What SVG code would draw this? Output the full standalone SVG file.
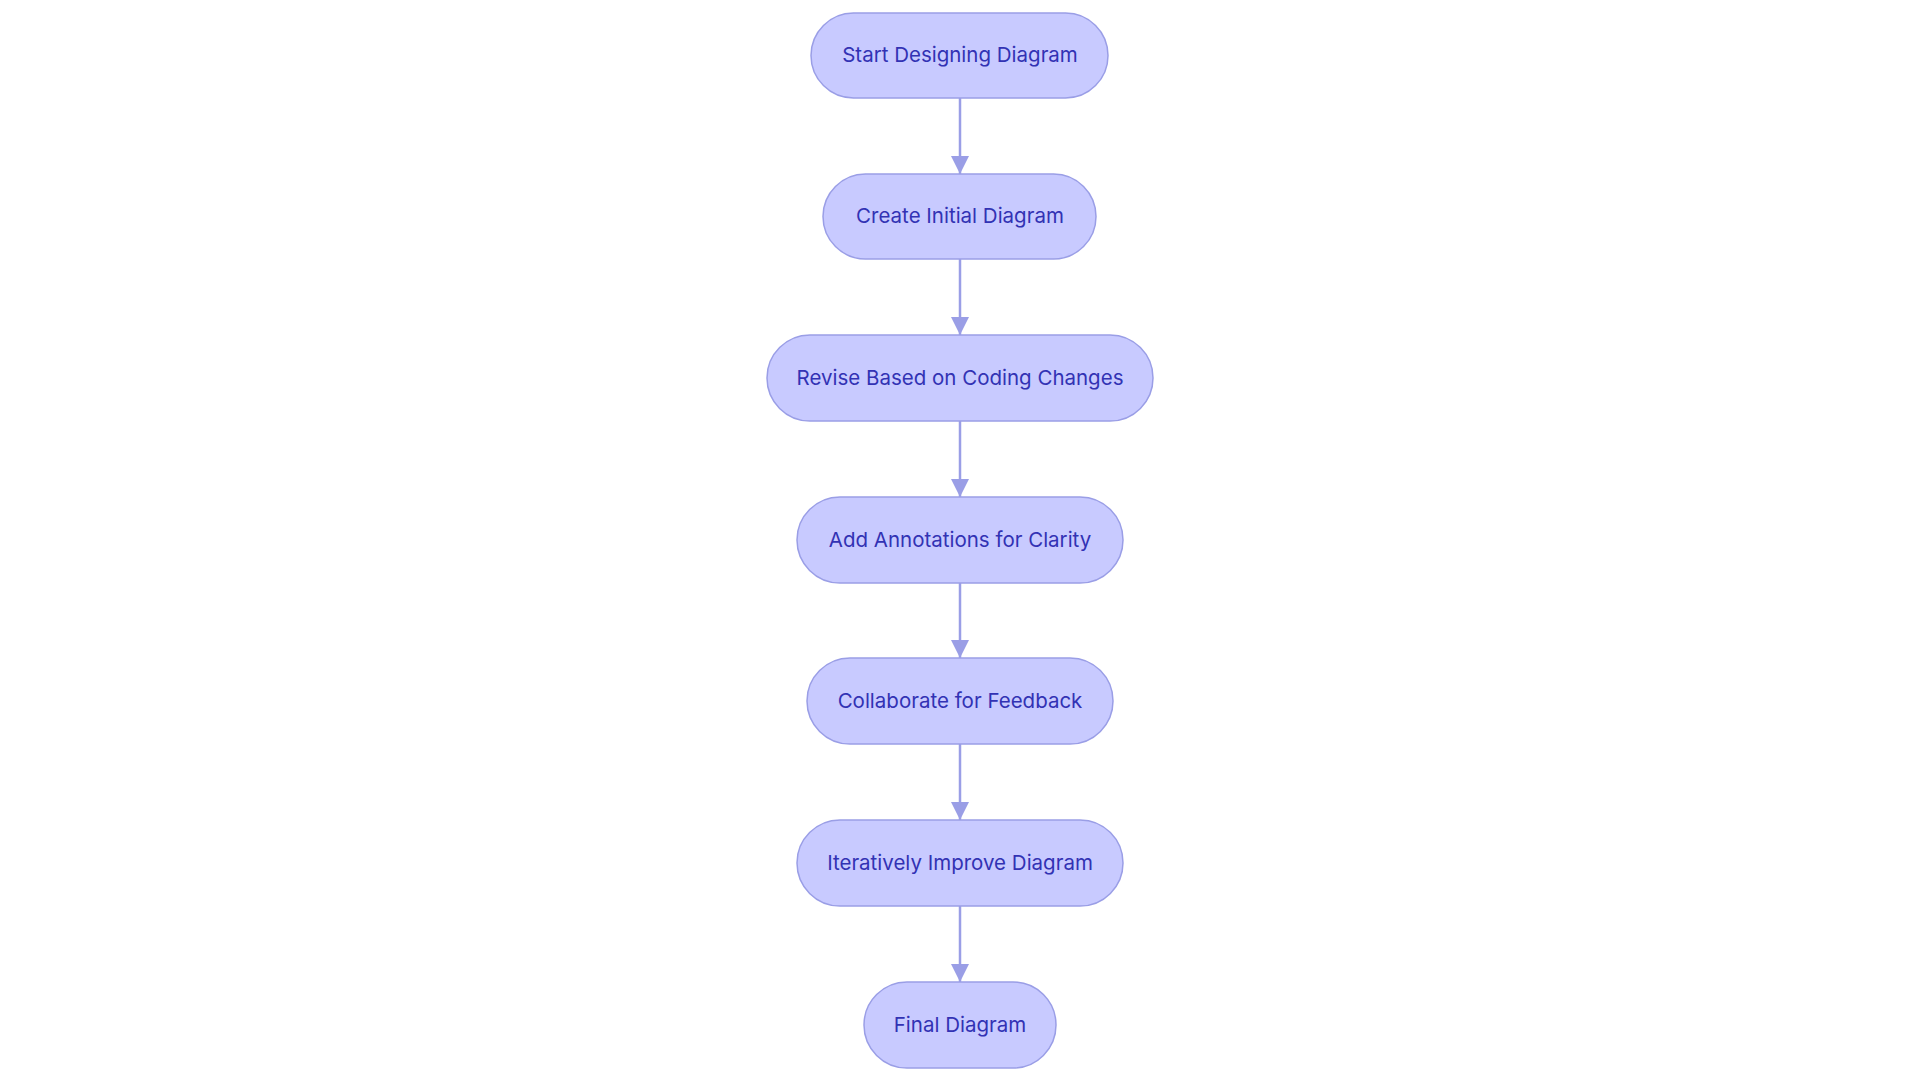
<svg xmlns="http://www.w3.org/2000/svg" width="1920" height="1080" viewBox="0 0 1920 1080">
<style>
.node rect{fill:#c8caff;stroke:#9a9ee6;stroke-width:1.5}
.node text{font-family:Inter,"Open Sans","Liberation Sans",sans-serif;font-size:20.5px;fill:#3232b4;text-anchor:middle;dominant-baseline:central}
.edge{stroke:#9a9ee6;stroke-width:2.5;fill:none;marker-end:url(#arr)}
</style>
<defs>
<marker id="arr" markerWidth="18" markerHeight="18" refX="18" refY="9" markerUnits="userSpaceOnUse" orient="auto">
<path d="M0,0 L18,9 L0,18 Z" fill="#9a9ee6"/>
</marker>
</defs>
<rect width="1920" height="1080" fill="#ffffff"/>
<g id="connectors">
<line class="edge" x1="960" y1="98" x2="960" y2="174"/>
<line class="edge" x1="960" y1="259" x2="960" y2="335"/>
<line class="edge" x1="960" y1="421" x2="960" y2="497"/>
<line class="edge" x1="960" y1="583" x2="960" y2="658"/>
<line class="edge" x1="960" y1="744" x2="960" y2="820"/>
<line class="edge" x1="960" y1="906" x2="960" y2="982"/>
</g>
<g id="n1" class="node"><rect x="811" y="13" width="297" height="85" rx="42.5"/><text x="960" y="54.5">Start Designing Diagram</text></g>
<g id="n2" class="node"><rect x="823" y="174" width="273" height="85" rx="42.5"/><text x="960" y="215.5">Create Initial Diagram</text></g>
<g id="n3" class="node"><rect x="767" y="335" width="386" height="86" rx="43"/><text x="960" y="377">Revise Based on Coding Changes</text></g>
<g id="n4" class="node"><rect x="797" y="497" width="326" height="86" rx="43"/><text x="960" y="539">Add Annotations for Clarity</text></g>
<g id="n5" class="node"><rect x="807" y="658" width="306" height="86" rx="43"/><text x="960" y="700">Collaborate for Feedback</text></g>
<g id="n6" class="node"><rect x="797" y="820" width="326" height="86" rx="43"/><text x="960" y="862">Iteratively Improve Diagram</text></g>
<g id="n7" class="node"><rect x="864" y="982" width="192" height="86" rx="43"/><text x="960" y="1024">Final Diagram</text></g>
</svg>
